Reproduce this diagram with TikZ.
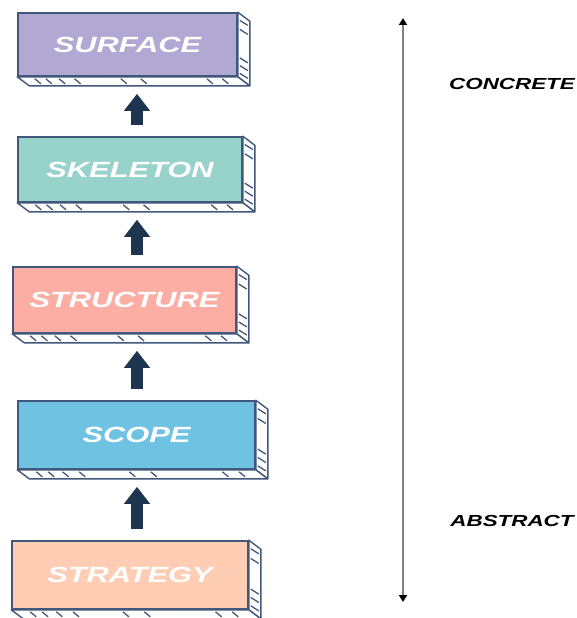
\documentclass[tikz,border=0pt]{standalone}
\usepackage{fontspec}
\newfontfamily\diagfont[FakeStretch=1.4]{Liberation Sans}
\usetikzlibrary{arrows.meta,calc}

\definecolor{surfacecol}{HTML}{B1A8D3}
\definecolor{skeletoncol}{HTML}{97D2CB}
\definecolor{structurecol}{HTML}{FCAEA5}
\definecolor{scopecol}{HTML}{6FC2E2}
\definecolor{strategycol}{HTML}{FECDB3}
\definecolor{edgecol}{HTML}{41577B}
\definecolor{arrowcol}{HTML}{1E3550}

\tikzstyle{layer}=[draw=edgecol, line width=1.6pt, inner sep=0pt, text=white, font=\diagfont\bfseries\itshape\fontsize{22}{22}\selectfont]
\tikzstyle{face}=[draw=edgecol, line width=1.4pt, fill=white, line join=round]
\tikzstyle{hatch}=[edgecol, line width=1.3pt]
\tikzstyle{lift}=[arrowcol, line width=12pt, -{Triangle[length=17pt,width=25pt]}, shorten <=11pt, shorten >=17pt]
\tikzstyle{side}=[font=\diagfont\bfseries\itshape\fontsize{16}{16}\selectfont]

% side and bottom faces of a slab, with a few hatch strokes
\newcommand{\slab}[1]{%
  \draw[face] (#1.north east) -- ++(12,9) -- ($(#1.south east)+(12,9)$) -- (#1.south east) -- cycle;
  \draw[face] (#1.south west) -- ++(12,9) -- ($(#1.south east)+(12,9)$) -- (#1.south east) -- cycle;
  \foreach \f in {0.08,0.13,0.19,0.26,0.47,0.56,0.86,0.93}
    \draw[hatch] ($(#1.south west)!\f!(#1.south east)+(0,2)$) -- ++(6,5);
  \foreach \f in {0.08,0.22,0.66,0.78,0.9}
    \draw[hatch] ($(#1.north east)!\f!(#1.south east)+(2,3)$) -- ++(8,5);
}

\begin{document}
\begin{tikzpicture}[x=1pt, y=-1pt]
  \useasboundingbox (0,0) rectangle (577,618);

  \node (surface)   [layer, fill=surfacecol,   minimum width=219pt, minimum height=63pt] at (127.5,44.5) {SURFACE};
  \node (skeleton)  [layer, fill=skeletoncol,  minimum width=224pt, minimum height=65pt] at (130,169.5) {SKELETON};
  \node (structure) [layer, fill=structurecol, minimum width=223pt, minimum height=66pt] at (124.5,300) {STRUCTURE};
  \node (scope)     [layer, fill=scopecol,     minimum width=237pt, minimum height=68pt] at (136.5,435) {SCOPE};
  \node (strategy)  [layer, fill=strategycol,  minimum width=236pt, minimum height=68pt] at (130,575) {STRATEGY};

  \slab{surface}
  \slab{skeleton}
  \slab{structure}
  \slab{scope}
  \slab{strategy}

  \coordinate (axis) at (137,0);
  \draw [lift] (skeleton.north -| axis) -- (surface.south -| axis);
  \draw [lift] (structure.north -| axis) -- (skeleton.south -| axis);
  \draw [lift] (scope.north -| axis) -- (structure.south -| axis);
  \draw [lift] (strategy.north -| axis) -- (scope.south -| axis);

  \coordinate (top) at (403,18);
  \coordinate (bottom) at (403,602);
  \draw [gray, line width=1.8pt, {Triangle[black,length=7pt,width=8pt]}-{Triangle[black,length=7pt,width=8pt]}] (top) -- (bottom);

  \node (concrete) [side] at (512,84) {CONCRETE};
  \node (abstract) [side] at (512,521) {ABSTRACT};
\end{tikzpicture}
\end{document}
